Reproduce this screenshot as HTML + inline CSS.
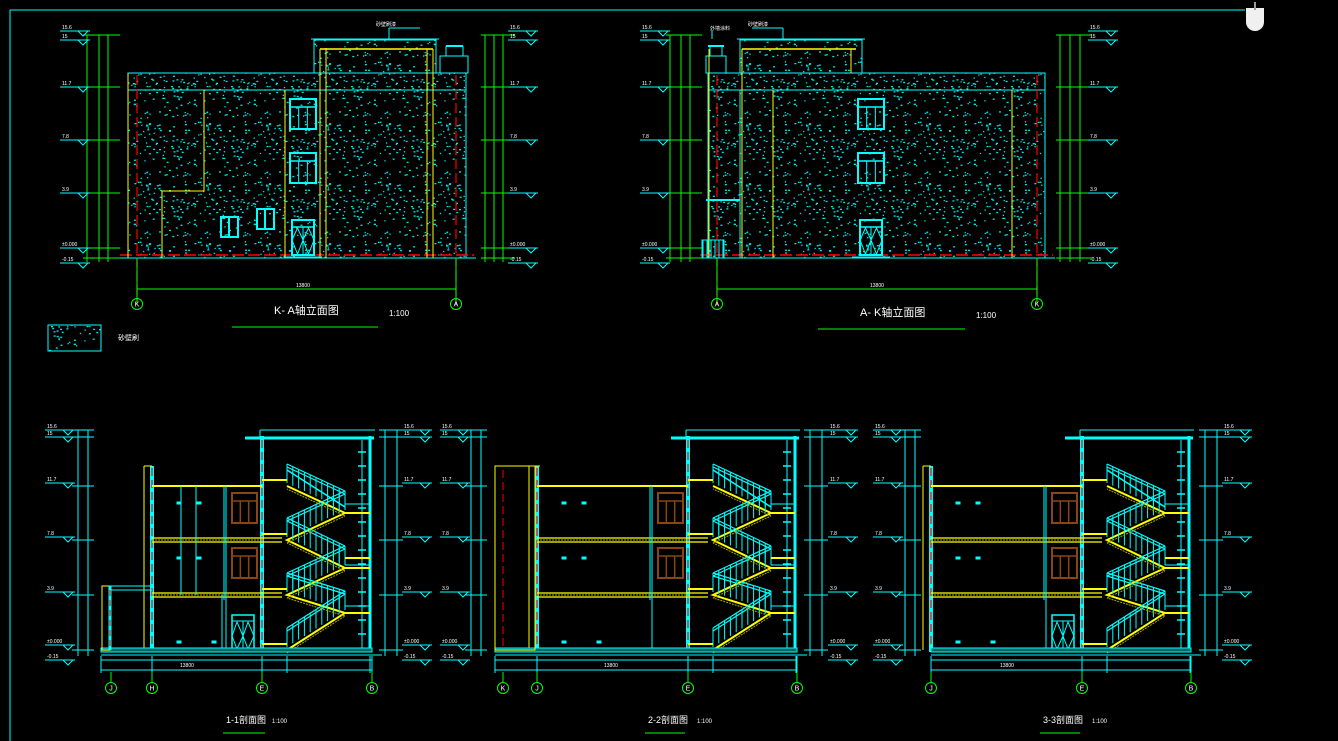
<!DOCTYPE html>
<html><head><meta charset="utf-8"><style>
html,body{margin:0;padding:0;background:#000;width:1338px;height:741px;overflow:hidden}
svg{display:block}
text{font-family:"Liberation Sans","Noto Sans CJK SC",sans-serif}
</style></head><body>
<svg id="s" width="1338" height="741" viewBox="0 0 1338 741" xmlns="http://www.w3.org/2000/svg"></svg>
<script>
var o=[];
var C='#00ffff',Y='#ffff00',G='#00ff00',R='#ff0000',W='#ffffff',B='#8b4513';
function L(x1,y1,x2,y2,c,w,d){o.push('<line x1="'+x1+'" y1="'+y1+'" x2="'+x2+'" y2="'+y2+'" stroke="'+c+'" stroke-width="'+(w||1)+'"'+(d?' stroke-dasharray="'+d+'"':'')+'/>');}
function Rc(x,y,w,h,c,sw,f){o.push('<rect x="'+x+'" y="'+y+'" width="'+w+'" height="'+h+'" fill="'+(f||'none')+'" stroke="'+c+'" stroke-width="'+(sw||1)+'"/>');}
function T(x,y,t,s,c,a){o.push('<text x="'+x+'" y="'+y+'" font-size="'+s+'" fill="'+(c||W)+'"'+(a?' text-anchor="'+a+'"':'')+'>'+t+'</text>');}
function Ci(x,y,t){o.push('<circle cx="'+x+'" cy="'+y+'" r="5.5" fill="none" stroke="'+G+'"/>');T(x,y+2.5,t,7,W,'middle');}
function lvl(x,y,t,right){
 L(x,y,x+30,y,C);o.push('<path d="M'+(x+18)+' '+y+' l5 5 l5 -5" fill="none" stroke="'+C+'"/>');T(x+2,y-2,t,5,W);}
var pat='<defs><pattern id="dots" width="60" height="60" patternUnits="userSpaceOnUse">';
var seed=7;function rnd(){seed=(seed*9301+49297)%233280;return seed/233280;}
for(var i=0;i<110;i++){pat+='<rect x="'+(rnd()*59).toFixed(1)+'" y="'+(rnd()*59).toFixed(1)+'" width="'+(rnd()<.5?2:1.3)+'" height="1.3" fill="#00e5e5"/>';}
pat+='</pattern></defs>';o.push(pat);
L(10,10,1245,10,C);L(10,10,10,741,C);
o.push('<path d="M1246 8 h18 v14 a9 9 0 0 1 -18 0z" fill="#f0f0f0"/>');L(1255,2,1255,10,'#999',2);

function dimsL(x0,xs,top,bot,col){xs.forEach(function(x){L(x,top,x,bot,col);});[35,87,140,193,248,258].forEach(function(y){L(xs[0]-4,y,xs[xs.length-1]+12,y,col);});}
function elev(wl,wr,ux1,ux2,mirror){
 o.push('<rect x="'+wl+'" y="73" width="'+(wr-wl)+'" height="185" fill="url(#dots)" stroke="'+C+'"/>');
 o.push('<rect x="'+ux1+'" y="40" width="'+(ux2-ux1)+'" height="33" fill="url(#dots)" stroke="'+C+'"/>');
 L(wl,90,wr,90,C);L(ux1-3,39,ux2+3,39,C);
 L(wl-8,255,wr+8,255,R,1.5,'12 4');
 L(wl-10,258,wr+10,258,C);
}
elev(128,466,314,436);
Rc(440,56,28,17,C);L(446,46,446,56,C);L(463,46,463,56,C);L(446,46,463,46,C,2);
L(128,73,128,258,Y);o.push('<path d="M204 90 V191 H162 V258" fill="none" stroke="'+Y+'"/>');
[285,320,326,427,433].forEach(function(x){L(x,x>300?49:90,x,258,Y);});L(320,49,433,49,Y,1.5);L(326,48,326,49,Y);
L(137,75,137,304,R,1.2,'10 4');L(456,75,456,304,R,1.2,'10 4');L(137,258,137,304,G);L(456,258,456,304,G);
L(389,39,389,28,C);L(389,28,420,28,C);T(376,26,'砂壁刷漆',5);
function win(x,y,w,h){Rc(x,y,w,h,C,2);L(x,y+8,x+w,y+8,C,1.5);L(x+w/3,y+8,x+w/3,y+h,C);L(x+2*w/3,y+8,x+2*w/3,y+h,C);}
win(290,99,26,30);win(290,153,26,30);
Rc(221,217,17,20,C,2);L(229,217,229,237,C,2);Rc(257,209,17,20,C,2);L(265,209,265,229,C,2);
function door(x,y,w,h){Rc(x,y,w,h,C,2);L(x,y+7,x+w,y+7,C,1.5);L(x+w/2,y+7,x+w/2,y+h,C);o.push('<path d="M'+x+' '+(y+20)+' l'+w/4+' -12 l'+w/4+' 12 l-'+w/4+' 14z M'+(x+w/2)+' '+(y+20)+' l'+w/4+' -12 l'+w/4+' 12 l-'+w/4+' 14z" fill="none" stroke="'+C+'"/>');L(x-8,y+h+2,x+w+8,y+h+2,C);}
door(292,220,22,35);
dimsL(0,[87,99,108],35,262,G);dimsL(0,[485,494,503],35,262,G);
[[60,31,'15.6'],[60,40,'15'],[60,87,'11.7'],[60,140,'7.8'],[60,193,'3.9'],[60,248,'±0.000'],[60,263,'-0.15']].forEach(function(a){lvl(a[0],a[1],a[2]);});
[[508,31,'15.6'],[508,40,'15'],[508,87,'11.7'],[508,140,'7.8'],[508,193,'3.9'],[508,248,'±0.000'],[508,263,'-0.15']].forEach(function(a){lvl(a[0],a[1],a[2]);});
L(137,289,456,289,G);T(296,287,'13800',5);
Ci(137,304,'K');Ci(456,304,'A');
T(274,314,'K- A轴立面图',11);T(389,316,'1:100',8);L(232,327,378,327,G);
o.push('<rect x="48" y="325" width="53" height="26" fill="url(#dots)" stroke="'+C+'"/>');T(118,340,'砂壁刷',7);

elev(708,1045,740,862);
Rc(706,56,20,17,C);L(710,46,710,56,C);L(722,46,722,56,C);L(708,46,724,46,C,2);
[709,742,773,1012].forEach(function(x){L(x,x<760?49:90,x,258,Y);});L(742,49,856,49,Y,1.5);L(851,49,851,73,Y);
L(717,75,717,304,R,1.2,'10 4');L(1037,75,1037,304,R,1.2,'10 4');L(717,258,717,304,G);L(1037,258,1037,304,G);
L(740,90,740,258,C);L(706,200,740,200,C,2);
for(var i=0;i<6;i++)L(703+i*4,240,703+i*4,258,C);Rc(702,240,22,18,C);
L(783,39,783,28,C);L(752,28,783,28,C);T(748,26,'砂壁刷漆',5);
L(712,39,712,30,C);T(710,30,'外墙涂料',5);
win(858,99,26,30);win(858,153,26,30);door(860,220,22,35);
dimsL(0,[670,681,690],35,262,G);dimsL(0,[1060,1070,1080],35,262,G);
[[640,31,'15.6'],[640,40,'15'],[640,87,'11.7'],[640,140,'7.8'],[640,193,'3.9'],[640,248,'±0.000'],[640,263,'-0.15']].forEach(function(a){lvl(a[0],a[1],a[2]);});
[[1088,31,'15.6'],[1088,40,'15'],[1088,87,'11.7'],[1088,140,'7.8'],[1088,193,'3.9'],[1088,248,'±0.000'],[1088,263,'-0.15']].forEach(function(a){lvl(a[0],a[1],a[2]);});
L(717,289,1037,289,G);T(870,287,'13800',5);
Ci(717,304,'A');Ci(1037,304,'K');
T(860,316,'A- K轴立面图',11);T(976,318,'1:100',8);L(818,329,965,329,G);

function section(E,Bx,J,type){
 var Bw=Bx-2;
 L(E-17,438,Bx+2,438,C,3);L(E-2,430,Bx+3,430,C);L(E-2,430,E-2,438,C);
 L(E,436,E,652,C,4);L(E,440,E,650,R,1.2,'8 4');
 L(Bw,436,Bw,652,C,3);L(Bw-8,440,Bw-8,650,C);
 for(var y=452;y<645;y+=14)L(Bw-12,y,Bw-4,y,C,1.5);
 var M=(type==1)?E-110:J;
 L(M,466,M,652,C,4);L(M,468,M,650,R,1.2,'8 4');
 L(M-8,466,M-8,650,Y);L(M-8,466,M,466,Y);
 L(M,486,E,486,Y,2);
 [540,595].forEach(function(y){L(M,y-2,E+20,y-2,Y,1.2);L(M,y+2,E+20,y+2,Y,1.2);L(M,y,E,y,'#aa0',1,'2 1');});
 L(E-36,486,E-36,650,C);L(E-38,486,E-38,600,C);
 if(type==1){L(E-66,486,E-66,595,C);L(E-81,486,E-81,595,C);L(E-40,595,E-40,650,C);}
 function bw(x,y,w,h){Rc(x,y,w,h,B,2);L(x,y+8,x+w,y+8,B,1.5);L(x+w/3,y+8,x+w/3,y+h,B,1.5);L(x+2*w/3,y+8,x+2*w/3,y+h,B,1.5);}
 bw(E-30,493,25,30);bw(E-30,548,25,30);
 if(type!=2){Rc(E-30,615,22,35,C,1.5);L(E-30,621,E-8,621,C);L(E-19,621,E-19,650,C);o.push('<path d="M'+(E-30)+' 636 l5 -14 l6 14 l-6 13z M'+(E-19)+' 636 l5 -14 l6 14 l-6 13z" fill="none" stroke="'+C+'"/>');}
 [[M+25,502],[M+45,502],[M+25,557],[M+45,557],[M+25,641],[M+60,641]].forEach(function(p){Rc(p[0],p[1],4,2,C,1,C);});
 var X1=E+25,X2=E+83;
 var pts=[[X1,650],[X2,613],[X1,595],[X2,568],[X1,540],[X2,513],[X1,486]];
 var d='M'+pts.map(function(p){return p[0]+' '+p[1];}).join(' L');
 o.push('<path d="'+d+'" fill="none" stroke="'+Y+'" stroke-width="2"/>');
 for(var k=0;k<6;k++){var a=pts[k],b=pts[k+1];
  o.push('<path d="M'+a[0]+' '+(a[1]-22)+' L'+b[0]+' '+(b[1]-22)+' M'+a[0]+' '+(a[1]-19)+' L'+b[0]+' '+(b[1]-19)+'" stroke="'+C+'" stroke-width="1.2" fill="none"/>');
  for(var t=0;t<=10;t++){var x=a[0]+(b[0]-a[0])*t/10,y=a[1]+(b[1]-a[1])*t/10;L(x,y-22,x,y-3,C,1);}
  o.push('<path d="M'+a[0]+' '+(a[1]+3)+' L'+b[0]+' '+(b[1]+3)+'" stroke="#aa0" stroke-dasharray="2 1"/>');
 }
 L(X1,470,X2,507,C,1.5);
 [513,558,568,613].forEach(function(y){L(X2,y,Bw,y,Y,2);});
 [[E,486],[E,540],[E,595],[E,650]].forEach(function(p){L(p[0],p[1]-6,X1,p[1]-6,Y,2);});
 [504,565,606].forEach(function(y){L(X2,y,Bw,y,C,1);});
 var gl=(type==1)?J-10:(type==2?J-42:J);
 o.push('<rect x="'+gl+'" y="648" width="'+(Bx-gl)+'" height="4" fill="#066" stroke="'+C+'"/>');
 L(gl,655,Bx+10,655,C);L(gl,660,Bx,660,C);L(gl,670,Bx,670,C);
 [gl,M,E,E+25,X2+25,Bx].forEach(function(x){L(x,656,x,673,C);});
}
section(262,372,111,1);
Rc(102,586,8,64,Y);L(110,586,152,586,C);L(110,590,152,590,C);L(110,586,110,650,C,3);L(110,590,110,650,R,1,'6 4');
L(144,466,144,586,Y);L(144,466,152,466,Y);
Ci(111,688,'J');Ci(152,688,'H');Ci(262,688,'E');Ci(372,688,'B');
[111,152,262,372].forEach(function(x){L(x,672,x,682,G);});
section(688,797,537,2);
Rc(495,466,40,184,Y);L(503,470,503,650,R,1,'8 4');L(535,466,540,466,Y);
Ci(503,688,'K');Ci(537,688,'J');Ci(688,688,'E');Ci(797,688,'B');
[503,537,688,797].forEach(function(x){L(x,672,x,682,G);});
section(1082,1191,931,3);
Ci(931,688,'J');Ci(1082,688,'E');Ci(1191,688,'B');
[931,1082,1191].forEach(function(x){L(x,672,x,682,G);});
function sdims(xs,mx){xs.forEach(function(x){L(x,430,x,656,C);});[430,437,486,540,595,650].forEach(function(y){L(xs[0]-6,y,xs[xs.length-1]+6,y,C);});
 [[430,'15.6'],[437,'15'],[483,'11.7'],[537,'7.8'],[592,'3.9'],[645,'±0.000'],[660,'-0.15']].forEach(function(a){lvl(mx,a[0],a[1]);});}
sdims([78,88],45);sdims([385,397],402);
sdims([471,481],440);sdims([810,822],828);
sdims([905,915],873);sdims([1205,1217],1222);
T(226,723,'1-1剖面图',9);T(272,723,'1:100',6);L(223,733,265,733,G);
T(648,723,'2-2剖面图',9);T(697,723,'1:100',6);L(645,733,685,733,G);
T(1043,723,'3-3剖面图',9);T(1092,723,'1:100',6);L(1040,733,1080,733,G);
T(180,667,'13800',5);T(604,667,'13800',5);T(1000,667,'13800',5);
document.getElementById('s').innerHTML=o.join('');
</script>
</body></html>
